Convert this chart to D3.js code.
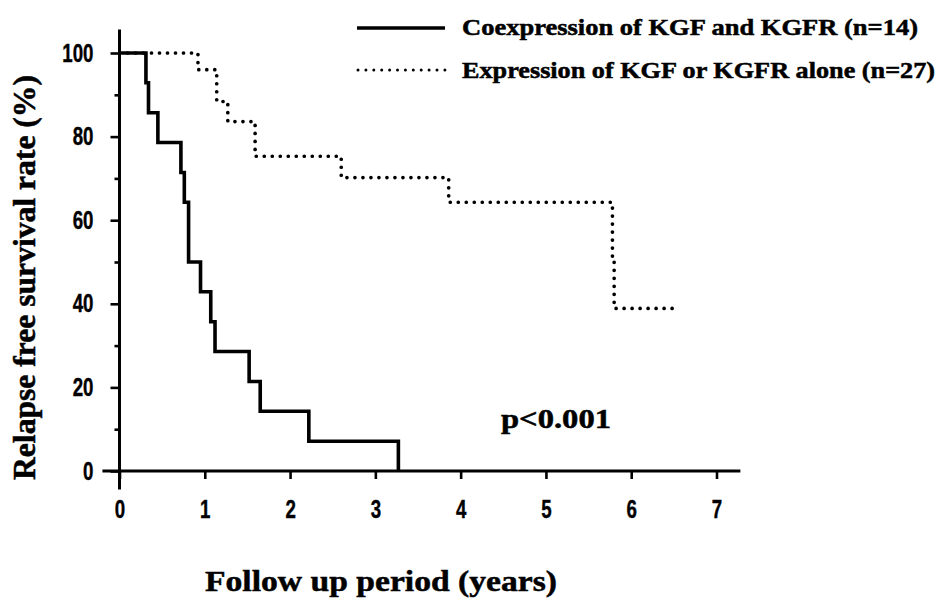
<!DOCTYPE html>
<meta charset="utf-8">
<html>
<head>
<style>
body {
  margin: 0;
  background: #fff;
}
.tick text {
  font-family: "Liberation Sans", Arial, Helvetica, sans-serif;
  font-weight: bold;
  font-size: 25px;
  fill: #000;
  stroke: #000;
  stroke-width: 0.4px;
}
.serif {
  font-family: "Liberation Serif", "Times New Roman", Times, serif;
  font-weight: bold;
  fill: #000;
  stroke: #000;
  stroke-width: 0.5px;
}
</style>
</head>
<body>
<div id="my_dataviz"></div>

<script src="https://d3js.org/d3.v7.min.js"></script>
<script>

// values (years, % relapse free)
var coexTime = [0, 0.31, 0.34, 0.45, 0.72, 0.76, 0.81, 0.95, 1.07, 1.12, 1.52, 1.65, 2.22, 3.27];
var coexSurv = [100, 92.9, 85.7, 78.6, 71.4, 64.3, 50.0, 42.9, 35.7, 28.6, 21.4, 14.3, 7.1, 0];

var aloneTime = [0, 0.92, 1.14, 1.27, 1.59, 2.60, 3.86, 5.78, 5.80, 6.53];
var aloneSurv = [100, 96.0, 88.4, 83.6, 75.3, 70.2, 64.3, 51.4, 38.9, 38.9];

var xTicks = [0, 1, 2, 3, 4, 5, 6, 7];
var yTicks = [0, 20, 40, 60, 80, 100];
var yMinorTicks = [10, 30, 50, 70, 90];

var legendLabels = ["Coexpression of KGF and KGFR (n=14)", "Expression of KGF or KGFR alone (n=27)"];

var svg = d3.select("#my_dataviz")
  .append("svg")
    .attr("width", 940)
    .attr("height", 598);

var x = d3.scaleLinear()
  .domain([0, 7])
  .range([119.5, 716.5]);

var y = d3.scaleLinear()
  .domain([0, 100])
  .range([471, 53]);

// axis lines, they run a bit past each other like the original
svg.append("line")
  .attr("x1", x(-0.2)).attr("x2", x(7.28))
  .attr("y1", y(0)).attr("y2", y(0))
  .attr("stroke", "#000")
  .attr("stroke-width", 2.8);

svg.append("line")
  .attr("x1", x(0)).attr("x2", x(0))
  .attr("y1", y(105.6)).attr("y2", y(-4.4))
  .attr("stroke", "#000")
  .attr("stroke-width", 3);

// narrow, tall digits like the original condensed font
function squeeze(sel) {
  sel.selectAll(".tick text")
    .attr("textLength", function(d) { return String(d).length * 10.4; })
    .attr("lengthAdjust", "spacingAndGlyphs");
}

// X axis
var gx = svg.append("g")
  .attr("transform", "translate(0," + y(0) + ")")
  .call(d3.axisBottom(x).tickValues(xTicks).tickSize(8).tickPadding(21).tickFormat(d3.format("d")));
gx.select(".domain").remove();
gx.selectAll(".tick line").attr("stroke-width", 2.6);
squeeze(gx);

// Y axis, major and minor ticks
var gy = svg.append("g")
  .attr("transform", "translate(" + x(0) + ",0)")
  .call(d3.axisLeft(y).tickValues(yTicks).tickSize(9).tickPadding(17).tickFormat(d3.format("d")));
gy.select(".domain").remove();
gy.selectAll(".tick line").attr("stroke-width", 2.6);
squeeze(gy);

var gyMinor = svg.append("g")
  .attr("transform", "translate(" + x(0) + ",0)")
  .call(d3.axisLeft(y).tickValues(yMinorTicks).tickSize(5).tickFormat(""));
gyMinor.select(".domain").remove();
gyMinor.selectAll(".tick line").attr("stroke-width", 2.6);

// survival curves
var coexData = coexTime.map(function(t, i) { return {t: t, s: coexSurv[i]}; });
var aloneData = aloneTime.map(function(t, i) { return {t: t, s: aloneSurv[i]}; });

var km = d3.line()
  .x(function(d) { return x(d.t); })
  .y(function(d) { return y(d.s); })
  .curve(d3.curveStepAfter);

svg.append("path")
  .datum(aloneData)
  .attr("d", km)
  .attr("fill", "none")
  .attr("stroke", "#000")
  .attr("stroke-width", 3.7)
  .attr("stroke-linecap", "round")
  .attr("stroke-dasharray", "0 8");

svg.append("path")
  .datum(coexData)
  .attr("d", km)
  .attr("fill", "none")
  .attr("stroke", "#000")
  .attr("stroke-width", 3.6);

// legend
svg.append("line")
  .attr("x1", 357).attr("x2", 445)
  .attr("y1", 28).attr("y2", 28)
  .attr("stroke", "#000")
  .attr("stroke-width", 3.6);

svg.append("line")
  .attr("x1", 358).attr("x2", 445)
  .attr("y1", 70).attr("y2", 70)
  .attr("stroke", "#000")
  .attr("stroke-width", 3)
  .attr("stroke-linecap", "round")
  .attr("stroke-dasharray", "0 7.9");

svg.append("text")
  .attr("class", "serif")
  .attr("x", 462).attr("y", 35)
  .attr("textLength", 456)
  .attr("lengthAdjust", "spacingAndGlyphs")
  .style("font-size", "23px")
  .text(legendLabels[0]);

svg.append("text")
  .attr("class", "serif")
  .attr("x", 462).attr("y", 78)
  .attr("textLength", 473)
  .attr("lengthAdjust", "spacingAndGlyphs")
  .style("font-size", "23px")
  .text(legendLabels[1]);

// p value
svg.append("text")
  .attr("class", "serif")
  .attr("x", 501).attr("y", 428)
  .attr("textLength", 110)
  .attr("lengthAdjust", "spacingAndGlyphs")
  .style("font-size", "28px")
  .text("p<0.001");

// axis titles
svg.append("text")
  .attr("class", "serif")
  .attr("x", 205).attr("y", 591)
  .attr("textLength", 352)
  .attr("lengthAdjust", "spacingAndGlyphs")
  .style("font-size", "30px")
  .text("Follow up period (years)");

svg.append("text")
  .attr("class", "serif")
  .attr("transform", "translate(35,480) rotate(-90)")
  .attr("textLength", 405)
  .attr("lengthAdjust", "spacingAndGlyphs")
  .style("font-size", "31px")
  .text("Relapse free survival rate (%)");

</script>
</body>
</html>
